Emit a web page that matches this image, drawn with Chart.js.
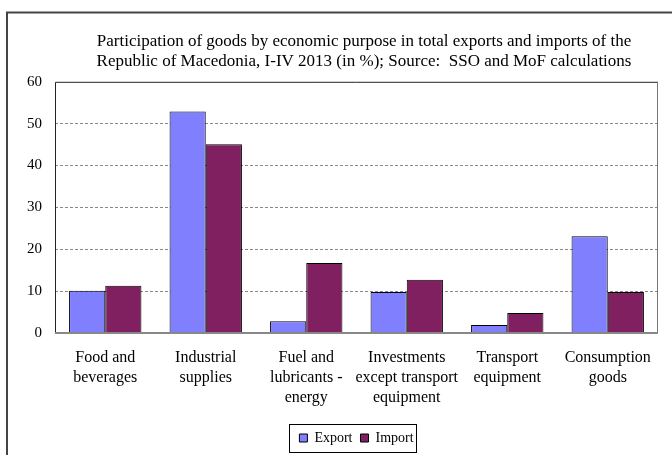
<!DOCTYPE html>
<html lang="en">
<head>
  <meta charset="UTF-8">
  <title>Participation of goods by economic purpose</title>
  <script src="https://cdn.jsdelivr.net/npm/chart.js"></script>
  <style>
    html, body { margin: 0; padding: 0; background: #fff; overflow: hidden; }
    #wrap { position: absolute; left: 0; top: 0; width: 720px; height: 455px; }
  </style>
</head>
<body>
  <div id="wrap"><canvas id="tradeChart"></canvas></div>

  <script>
    // Values (share in %, I-IV 2013)
    const categories = [
      ['Food and', 'beverages'],
      ['Industrial', 'supplies'],
      ['Fuel and', 'lubricants -', 'energy'],
      ['Investments', 'except transport', 'equipment'],
      ['Transport', 'equipment'],
      ['Consumption', 'goods']
    ];
    const exportShare = [10.1, 52.9, 2.8, 9.8, 1.9, 23.1];
    const importShare = [11.3, 45.1, 16.7, 12.7, 4.8, 9.8];
    const titleLines = [
      'Participation of goods by economic purpose in total exports and imports of the',
      'Republic of Macedonia, I-IV 2013 (in %); Source:  SSO and MoF calculations'
    ];

    const serif = "'Liberation Serif', 'DejaVu Serif', serif";

    // outer frame + plot area border + legend box
    const frames = {
      id: 'frames',
      beforeDraw(chart) {
        const c = chart.ctx;
        c.save();
        c.strokeStyle = '#444';
        c.lineWidth = 2;
        c.beginPath();
        c.moveTo(7, 480); c.lineTo(7, 12.5); c.lineTo(730, 12.5);
        c.stroke();
        c.restore();
      },
      afterDatasetsDraw(chart) {
        const a = chart.chartArea, c = chart.ctx;
        c.save();
        c.lineWidth = 1;
        c.strokeStyle = '#222';
        c.beginPath();
        c.moveTo(a.left + 0.5, a.bottom); c.lineTo(a.left + 0.5, a.top + 0.5); c.lineTo(a.right, a.top + 0.5);
        c.stroke();
        c.strokeStyle = '#777';
        c.beginPath();
        c.moveTo(a.right - 0.5, a.top); c.lineTo(a.right - 0.5, a.bottom);
        c.stroke();
        c.lineWidth = 2;
        c.strokeStyle = '#888';
        c.beginPath();
        c.moveTo(a.left, a.bottom); c.lineTo(a.right, a.bottom);
        c.stroke();
        // legend border
        const hb = chart.legend.legendHitBoxes;
        if (hb && hb.length) {
          const l = Math.min(...hb.map(h => h.left)) - 10;
          const r = Math.max(...hb.map(h => h.left + h.width)) + 3;
          const t = Math.min(...hb.map(h => h.top)) - 7;
          const b = Math.max(...hb.map(h => h.top + h.height)) + 7;
          c.lineWidth = 1;
          c.strokeStyle = '#000';
          c.strokeRect(Math.round(l) + 0.5, Math.round(t) + 0.5, Math.round(r - l), Math.round(b - t));
        }
        c.restore();
      }
    };

    new Chart(document.getElementById('tradeChart'), {
      type: 'bar',
      data: {
        labels: categories,
        datasets: [
          { label: 'Export', data: exportShare, backgroundColor: '#8080ff', borderColor: '#000', borderWidth: 1 },
          { label: 'Import', data: importShare, backgroundColor: '#802060', borderColor: '#000', borderWidth: 1 }
        ]
      },
      options: {
        responsive: true,
        maintainAspectRatio: false,
        animation: false,
        layout: { padding: { left: 8, top: 0, right: 0, bottom: 0 } },
        datasets: { bar: { categoryPercentage: 0.72, barPercentage: 1.0 } },
        plugins: {
          title: {
            display: true,
            text: titleLines,
            color: '#000',
            font: { family: serif, size: 17, weight: 'normal', lineHeight: 1.2 },
            padding: { top: 31, bottom: 10 }
          },
          legend: {
            position: 'bottom',
            fullSize: false,
            labels: {
              color: '#000',
              font: { family: serif, size: 14 },
              boxWidth: 8,
              boxHeight: 8,
              padding: 8
            }
          },
          tooltip: { enabled: false }
        },
        scales: {
          x: {
            grid: { display: false, drawTicks: false },
            border: { display: false },
            ticks: {
              color: '#000',
              font: { family: serif, size: 16, lineHeight: 1.25 },
              padding: 15,
              maxRotation: 0,
              autoSkip: false
            }
          },
          y: {
            min: 0,
            max: 60,
            afterFit: s => { s.width = 47; },
            grid: {
              drawTicks: false,
              color: ctx => (ctx.tick && (ctx.tick.value === 0 || ctx.tick.value === 60)) ? 'rgba(0,0,0,0)' : '#888',
              lineWidth: 1
            },
            border: { display: false, dash: [3, 2] },
            ticks: {
              stepSize: 10,
              color: '#000',
              font: { family: serif, size: 15 },
              padding: 13
            }
          },
          yR: {
            position: 'right',
            display: true,
            afterFit: s => { s.width = 62; },
            grid: { display: false, drawTicks: false },
            border: { display: false },
            ticks: { display: false }
          }
        }
      },
      plugins: [frames]
    });
  </script>
</body>
</html>
